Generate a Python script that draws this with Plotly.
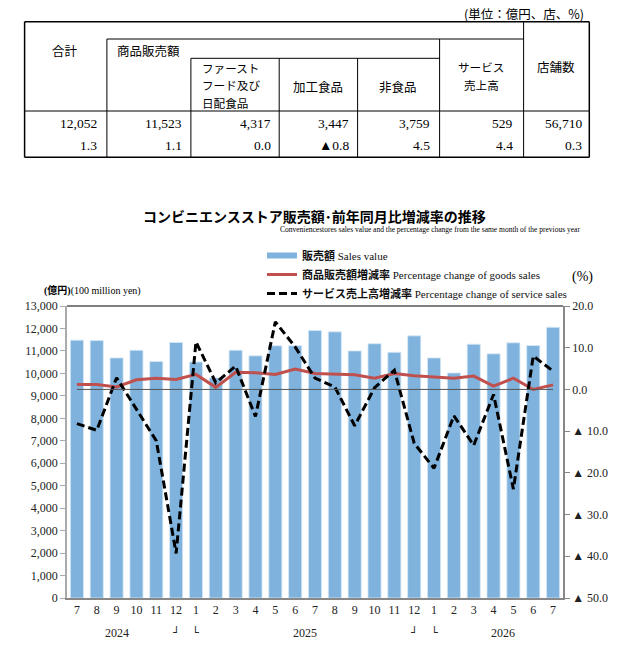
import plotly.graph_objects as go

# chart data (monthly, 2024-07 .. 2026-07)
years = ["2024"] * 6 + ["2025"] * 12 + ["2026"] * 7
months = ["7", "8", "9", "10", "11", "12",
          "1", "2", "3", "4", "5", "6", "7", "8", "9", "10", "11", "12",
          "1", "2", "3", "4", "5", "6", "7"]
cats = [y + "-" + m for y, m in zip(years, months)]

# 販売額 (億円)
sales = [11480, 11460, 10690, 11030, 10530, 11380,
         10510, 9800, 11030, 10780, 11230, 11230, 11910, 11850, 11000, 11320, 10940, 11670,
         10690, 10020, 11300, 10870, 11360, 11240, 12052]
# 商品販売額増減率 (%)
goods_chg = [1.2, 1.2, 0.6, 2.3, 2.7, 2.4,
             3.6, 0.5, 4.1, 4.0, 3.6, 4.9, 3.8, 3.6, 3.5, 2.7, 3.8, 3.3,
             3.0, 2.7, 3.2, 0.8, 2.7, 0.0, 1.1]
# サービス売上高増減率 (%)
service_chg = [-8.2, -9.8, 2.8, -4.6, -12.3, -39.3,
               11.4, 1.6, 5.6, -6.5, 16.2, 10.2, 2.7, 0.6, -8.7, 0.4, 4.6, -12.9,
               -18.9, -6.3, -13.4, -1.2, -23.9, 8.0, 4.4]

left_ticks = [0, 1000, 2000, 3000, 4000, 5000, 6000, 7000, 8000, 9000, 10000, 11000, 12000, 13000]
right_ticks = [20, 10, 0, -10, -20, -30, -40, -50]
right_labels = ["20.0", "10.0", "0.0", "▲ 10.0", "▲ 20.0", "▲ 30.0", "▲ 40.0", "▲ 50.0"]

# summary table above the chart
table_values = ["12,052", "11,523", "4,317", "3,447", "3,759", "529", "56,710"]
table_changes = ["1.3", "1.1", "0.0", "▲0.8", "4.5", "4.4", "0.3"]

BLUE = "#7fb3dd"
RED = "#c0504d"
SERIF = "Liberation Serif, Noto Sans CJK JP"
JP = "Noto Sans CJK JP"

W, H = 621, 645
L, R, T, B = 67, 563, 306, 598


def px(x):
    return (x - L) / (R - L)


def py(y):
    return (B - y) / (B - T)


fig = go.Figure()

fig.add_trace(go.Bar(x=cats, y=sales, marker=dict(color=BLUE, line=dict(color="#d8e8f5", width=0.8)),
                     showlegend=False, yaxis="y"))
# legend swatch for the bars (wide strip like the original)
fig.add_trace(go.Scatter(x=[None], y=[None], mode="lines", line=dict(color=BLUE, width=6),
                         name="<b>販売額</b> Sales value", yaxis="y"))
fig.add_trace(go.Scatter(x=cats, y=goods_chg, mode="lines", line=dict(color=RED, width=3),
                         name="<b>商品販売額増減率</b> Percentage change of goods sales", yaxis="y2"))
fig.add_trace(go.Scatter(x=cats, y=service_chg, mode="lines",
                         line=dict(color="black", width=3, dash="8px,4px"),
                         name="<b>サービス売上高増減率</b> Percentage change of service sales", yaxis="y2"))

shapes = [
    # zero line of the % axis
    dict(type="line", xref="x", yref="y2", x0=cats[0], x1=cats[-1], y0=0, y1=0,
         line=dict(color="#555", width=1), layer="above"),
    # top frame
    dict(type="line", xref="paper", yref="paper", x0=0, x1=1, y0=1, y1=1,
         line=dict(color="#555", width=1.5)),
]


def tline(x0, y0, x1, y1, w=1):
    shapes.append(dict(type="line", xref="paper", yref="paper",
                       x0=px(x0), x1=px(x1), y0=py(y0), y1=py(y1),
                       line=dict(color="black", width=w)))


# table grid
tline(24.6, 21.7, 589.3, 21.7, 1.5)
tline(24.6, 157.3, 589.3, 157.3, 1.5)
tline(24.6, 21.7, 24.6, 157.3, 1.5)
tline(589.3, 21.7, 589.3, 157.3, 1.5)
tline(106.9, 39, 523.6, 39)
tline(523.6, 21.7, 523.6, 157.3)
tline(106.9, 39, 106.9, 157.3)
tline(439.6, 39, 439.6, 157.3)
tline(190.9, 58.3, 439.6, 58.3)
for xv in [190.9, 279.2, 357.6]:
    tline(xv, 58.3, xv, 157.3)
tline(24.6, 111, 589.3, 111)

annotations = []


def text(x, y, s, size=12.5, family=JP, anchor="center", color="black"):
    annotations.append(dict(xref="paper", yref="paper", x=px(x), y=py(y), text=s,
                            showarrow=False, xanchor=anchor, yanchor="middle",
                            font=dict(family=family, size=size, color=color)))


text(586, 13.3, "(単位：億円、店、%)", anchor="right")
text(65.3, 50.7, "合計")
text(114.9, 50.7, "商品販売額", anchor="left")
text(200, 68.3, "ファースト", size=11.6, anchor="left")
text(200, 85.5, "フード及び", size=11.6, anchor="left")
text(200, 102.7, "日配食品", size=11.6, anchor="left")
text(318, 86, "加工食品")
text(398, 86, "非食品")
text(481, 67.5, "サービス", size=11.6)
text(481, 85.5, "売上高", size=11.6)
text(556.4, 67, "店舗数")
value_right = [99, 184.2, 273.3, 350.5, 431.7, 514.9, 584.2]
for xr, v, c in zip(value_right, table_values, table_changes):
    text(xr, 123.3, v, size=13.5, family=SERIF, anchor="right")
    text(xr, 145.7, c, size=13.5, family=SERIF, anchor="right")

# chart titles
text(314, 216, "<b>コンビニエンスストア販売額･前年同月比増減率の推移</b>", size=14)
text(582, 229, "Conveniencestores sales value and the percentage change from the same month of the previous year",
     size=7.5, family=SERIF, anchor="right")
text(41.6, 290.7, "<b>(億円)</b>(100 million yen)", size=10, family=SERIF, anchor="left")
text(582, 276.7, "(%)", size=14, family=SERIF)

# year labels and year-boundary brackets under the month ticks
for xi, s in [(2.0, "2024"), (11.5, "2025"), (21.5, "2026")]:
    annotations.append(dict(xref="x", yref="paper", x=xi, y=py(633), text=s, showarrow=False,
                            yanchor="middle", font=dict(family=SERIF, size=12, color="#222")))
for i in [5, 17]:
    annotations.append(dict(xref="x", yref="paper", x=cats[i], y=py(632), text="┘", showarrow=False,
                            yanchor="middle", font=dict(family="DejaVu Sans", size=11, color="#222")))
    annotations.append(dict(xref="x", yref="paper", x=cats[i + 1], y=py(632), text="└", showarrow=False,
                            yanchor="middle", font=dict(family="DejaVu Sans", size=11, color="#222")))

fig.update_layout(
    width=W, height=H, autosize=False,
    margin=dict(l=L, r=W - R, t=T, b=H - B, pad=0),
    paper_bgcolor="white", plot_bgcolor="white",
    bargap=0.34,
    font=dict(family=SERIF, size=12, color="#222"),
    xaxis=dict(type="category", tickvals=cats, ticktext=months, showgrid=False,
               showline=True, linecolor="#888", linewidth=1.5, ticks="", tickfont=dict(size=12)),
    yaxis=dict(range=[0, 13000], tickvals=left_ticks, tickformat=",", showgrid=False,
               showline=True, linecolor="#aaa", linewidth=1.5, ticks="outside", ticklen=5,
               tickcolor="#aaa", zeroline=False, tickfont=dict(size=12)),
    yaxis2=dict(range=[-50, 20], tickvals=right_ticks, ticktext=right_labels, overlaying="y",
                side="right", showgrid=False, showline=True, linecolor="#888", linewidth=1.5,
                ticks="outside", ticklen=5, tickcolor="#888", zeroline=False, tickfont=dict(size=12)),
    legend=dict(x=px(262), y=py(241), xanchor="left", yanchor="top", bgcolor="rgba(0,0,0,0)",
                font=dict(family=SERIF, size=11, color="#111"), traceorder="normal"),
    shapes=shapes,
    annotations=annotations,
)

# drop the default 8px page margin so the figure sits at the window's top-left corner
fig.write_html("out.html", config={"displayModeBar": False},
               post_script="document.body.style.margin='0';")
